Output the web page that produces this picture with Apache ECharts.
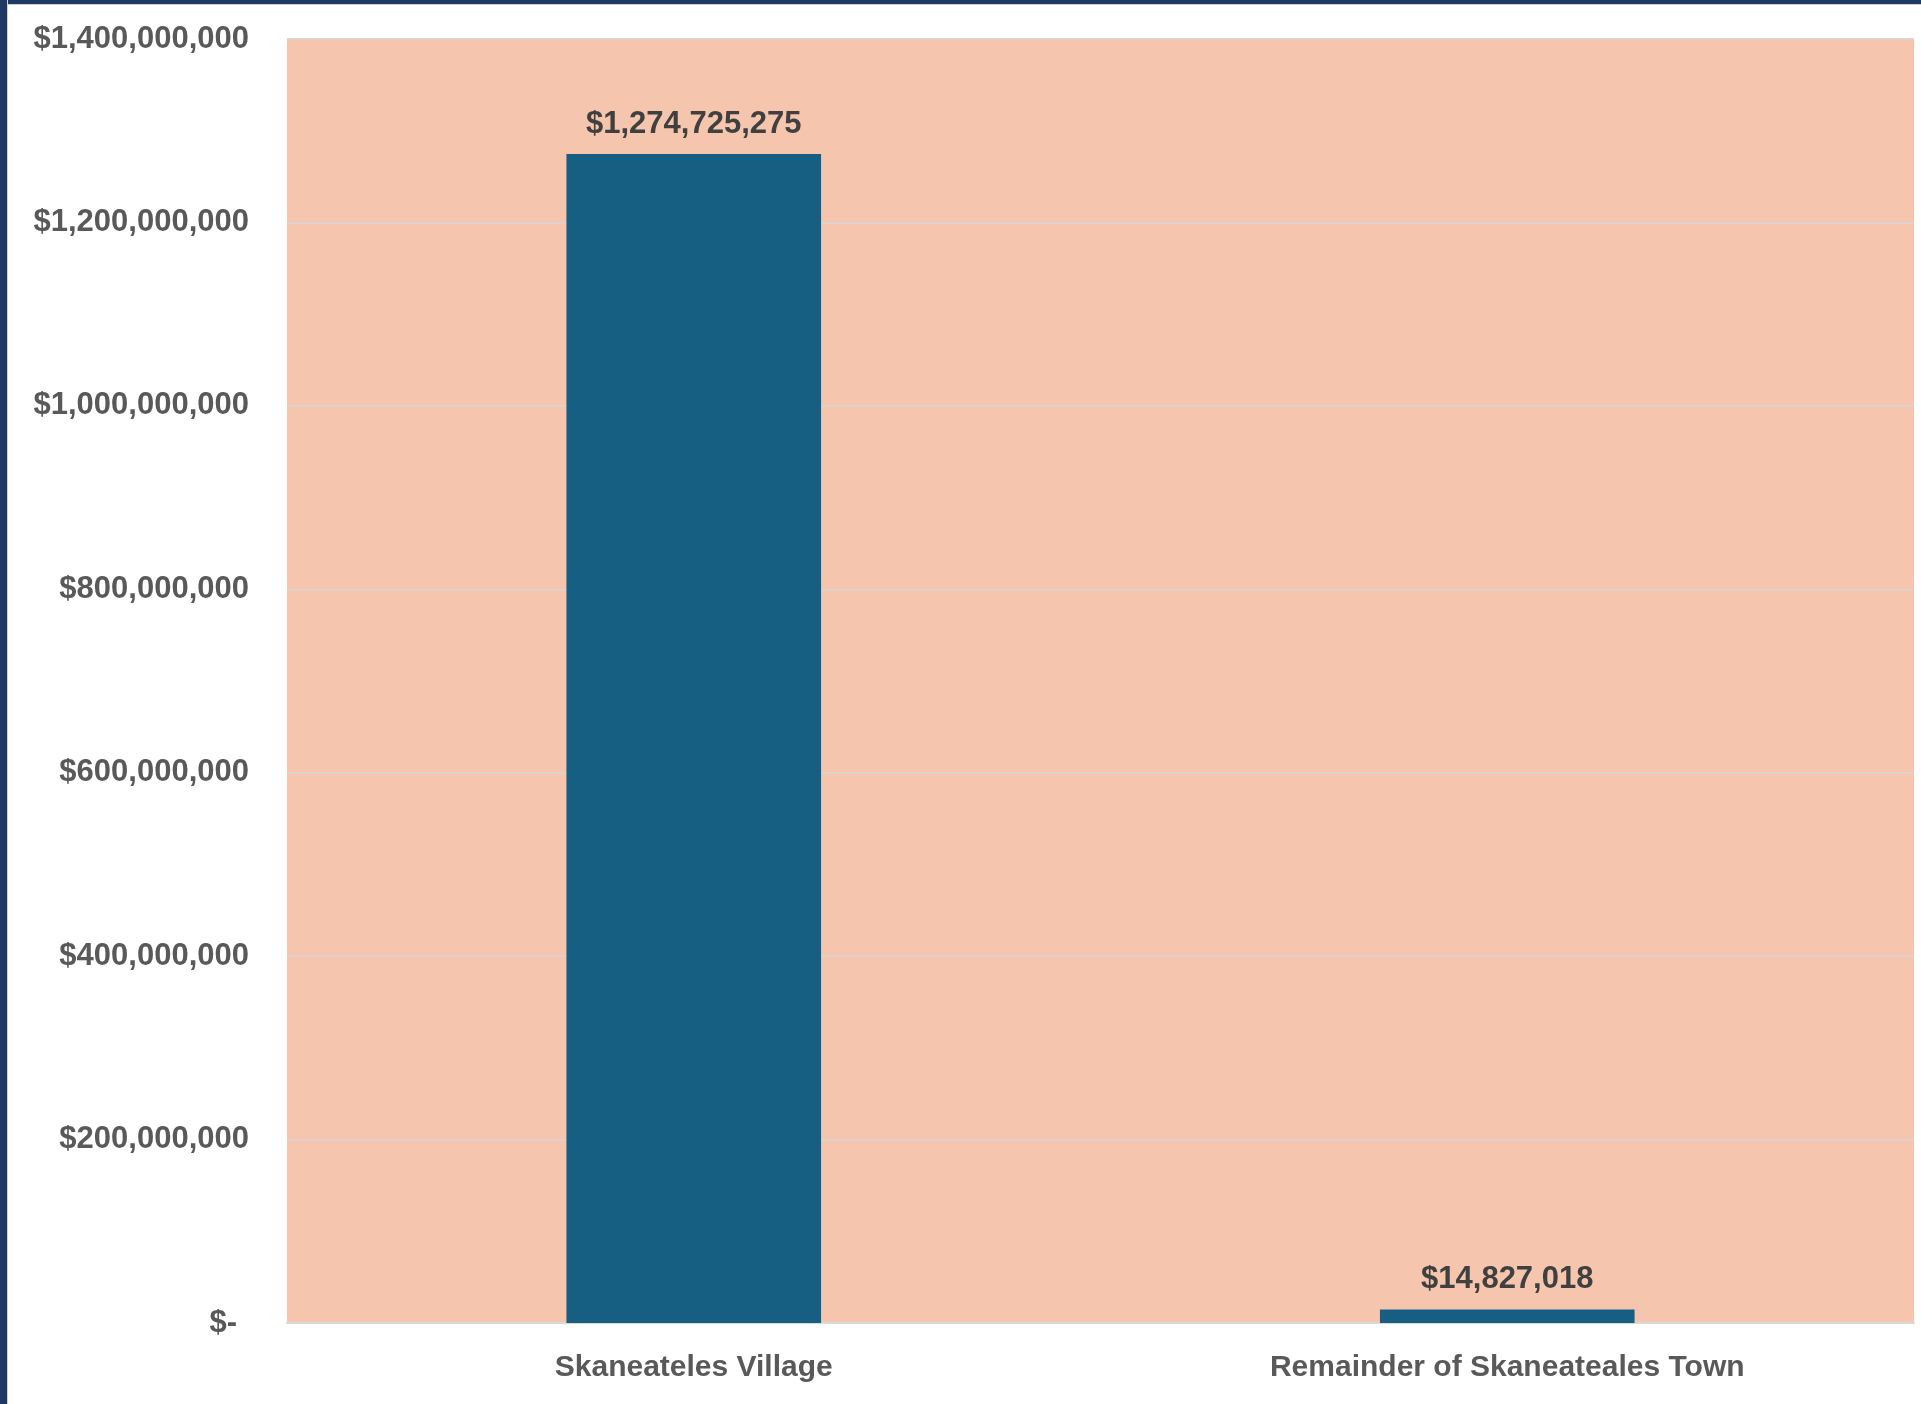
<!DOCTYPE html>
<html>
<head>
<meta charset="utf-8">
<script src="https://cdn.jsdelivr.net/npm/echarts@6/dist/echarts.min.js"></script>
<style>
  html, body { margin: 0; padding: 0; background: #ffffff; }
  #chart { position: absolute; left: 0; top: 0; width: 1921px; height: 1404px; }
  #frameTop { position: absolute; left: 0; top: 0; width: 1921px; height: 4px; background: #1f3864; border-bottom: 1px solid #cfcfcf; }
  #frameLeft { position: absolute; left: 0; top: 0; width: 7px; height: 1404px; background: #1f3864; border-right: 1px solid #cfcfcf; }
</style>
</head>
<body>
<div id="chart"></div>
<div id="frameTop"></div>
<div id="frameLeft"></div>
<script>
const categories = ['Skaneateles Village', 'Remainder of Skaneateales Town'];
const values = [1274725275, 14827018];
const yTicks = [0, 200000000, 400000000, 600000000, 800000000, 1000000000, 1200000000, 1400000000];

function money(v) {
  return '$' + Math.round(v).toString().replace(/\B(?=(\d{3})+(?!\d))/g, ',');
}

const FONT = 'Liberation Sans, Arial, sans-serif';
const chart = echarts.init(document.getElementById('chart'), null, { renderer: 'canvas' });
chart.setOption({
  animation: false,
  backgroundColor: 'transparent',
  grid: {
    left: 287, right: 7, top: 39, bottom: 81,
    show: true, backgroundColor: '#f5c6ad', borderWidth: 0
  },
  xAxis: {
    type: 'category',
    data: categories,
    axisTick: { show: false },
    axisLine: { show: true, lineStyle: { color: '#d9d9d9', width: 2 } },
    axisLabel: {
      margin: 30,
      color: '#595959',
      fontFamily: FONT,
      fontWeight: 'bold',
      fontSize: 30
    }
  },
  yAxis: {
    type: 'value',
    min: yTicks[0],
    max: yTicks[yTicks.length - 1],
    interval: yTicks[1] - yTicks[0],
    axisLine: { show: false },
    axisTick: { show: false },
    splitLine: { show: true, lineStyle: { color: '#ddd3cc', width: 2 } },
    axisLabel: {
      margin: 38,
      color: '#595959',
      fontFamily: FONT,
      fontWeight: 'bold',
      fontSize: 31,
      formatter: v => v === 0 ? '{z|$-}' : money(v),
      rich: {
        z: { color: '#595959', fontFamily: FONT, fontWeight: 'bold', fontSize: 31, padding: [0, 12, 0, 0] }
      }
    }
  },
  series: [{
    type: 'bar',
    data: values,
    barWidth: '31.3%',
    itemStyle: { color: '#175f82' },
    label: {
      show: true,
      position: 'top',
      distance: 14,
      color: '#404040',
      fontFamily: FONT,
      fontWeight: 'bold',
      fontSize: 31,
      formatter: p => money(p.value)
    }
  }]
});
</script>
</body>
</html>
